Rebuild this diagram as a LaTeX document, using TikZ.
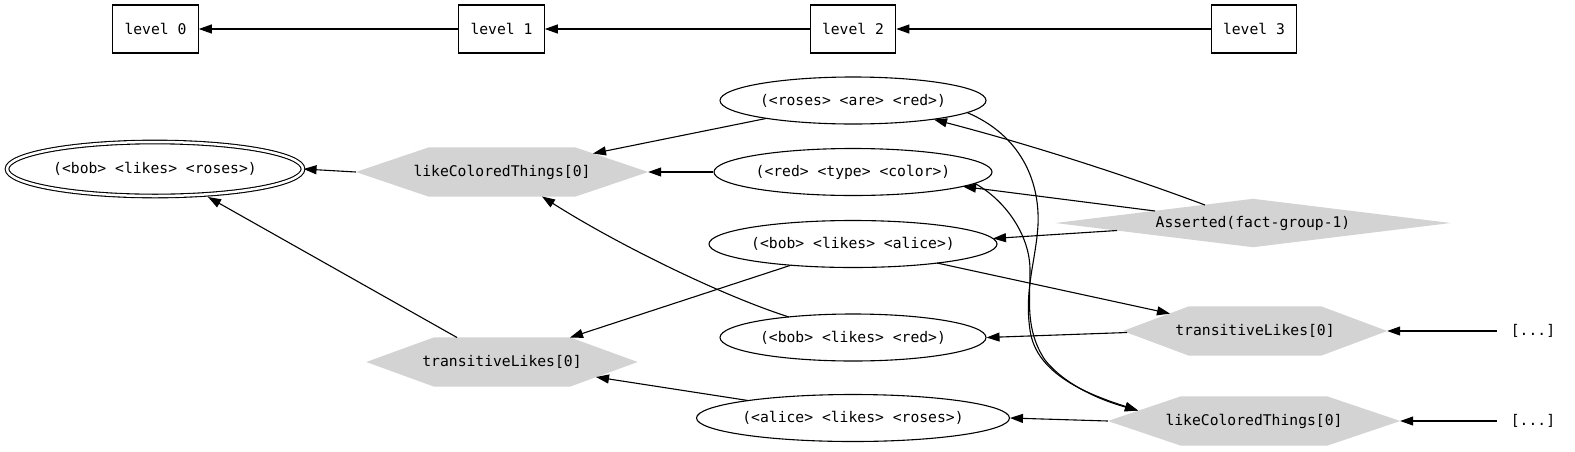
\documentclass[tikz,border=0pt]{standalone}
\usepackage{fontspec}
\newfontfamily\gvfont{DejaVu Sans Mono}
\usetikzlibrary{shapes.geometric,arrows.meta,calc}
\pgfdeclarelayer{background}
\pgfsetlayers{background,main}
\definecolor{gvgray}{HTML}{D3D3D3}
\newcommand\hexfill[1]{\fill[gvgray] (#1.west) -- ($(#1.north west)!.25!(#1.north east)$) -- ($(#1.north west)!.75!(#1.north east)$) -- (#1.east) -- ($(#1.south west)!.75!(#1.south east)$) -- ($(#1.south west)!.25!(#1.south east)$) -- cycle;}
\newcommand\diafill[1]{\fill[gvgray] (#1.west) -- (#1.north) -- (#1.east) -- (#1.south) -- cycle;}
\begin{document}
\begin{tikzpicture}[x=1pt,y=-1pt,
  font=\gvfont\fontsize{14.7}{17}\selectfont,
  every node/.style={inner sep=0pt},
  lvl/.style={draw, rectangle, minimum width=85.5pt, minimum height=48pt, line width=1.1pt},
  fact/.style={draw, ellipse, minimum height=47pt, line width=1.1pt},
  rulebox/.style={rectangle, minimum height=49pt},
  link/.style={line width=1.1pt, -{Triangle[length=13pt,width=9pt]}},
 ]
\useasboundingbox (0,0) rectangle (1575,451);
% levels
\node[lvl] (l0) at (155.5,29) {level 0};
\node[lvl] (l1) at (501.5,29) {level 1};
\node[lvl] (l2) at (853,29) {level 2};
\node[lvl] (l3) at (1254,29) {level 3};
% facts and rules
\node[fact, double, double distance=2.5pt, minimum width=296pt, minimum height=54pt] (bobroses) at (155,169) {(<bob> <likes> <roses>)};
\node[rulebox, minimum width=292pt] (LCT1) at (502,172) {likeColoredThings[0]};
\node[rulebox, minimum width=271pt] (TL1) at (502,362) {transitiveLikes[0]};
\node[fact, minimum width=266pt] (rosesred) at (853,100.5) {(<roses> <are> <red>)};
\node[fact, minimum width=278pt] (redtype) at (853,172) {(<red> <type> <color>)};
\node[fact, minimum width=288pt] (bobalice) at (853,244) {(<bob> <likes> <alice>)};
\node[fact, minimum width=266pt] (bobred) at (853,337.5) {(<bob> <likes> <red>)};
\node[fact, minimum width=310pt] (alice) at (853,418) {(<alice> <likes> <roses>)};
\node[rulebox, minimum width=395pt, minimum height=48pt] (asserted) at (1253,223) {Asserted(fact-group-1)};
\node[rulebox, minimum width=264pt] (TL2) at (1255,331) {transitiveLikes[0]};
\node[rulebox, minimum width=292pt] (LCT2) at (1254,421) {likeColoredThings[0]};
\node[inner xsep=14pt] (dots1) at (1533,331) {[...]};
\node[inner xsep=14pt] (dots2) at (1533,421) {[...]};
\begin{pgfonlayer}{background}
\hexfill{LCT1}
\hexfill{TL1}
\hexfill{TL2}
\hexfill{LCT2}
\diafill{asserted}
\end{pgfonlayer}
% edges
\draw[link] (l1) -- (l0);
\draw[link] (l2) -- (l1);
\draw[link] (l3) -- (l2);
\draw[link] (LCT1.west) -- (bobroses.east);
\draw[link] ($(TL1)+(-45,-24.5)$) -- ($(bobroses)+(53,28)$);
\draw[link] ($(rosesred)+(-87,18)$) -- ($(LCT1)+(91,-18.5)$);
\draw[link] (redtype.west) -- (LCT1.east);
\draw[link] ($(bobred)+(-64,-20.5)$) .. controls (720,295) and (615,243) .. ($(LCT1)+(40,24.5)$);
\draw[link] ($(bobalice)+(-63,21.5)$) -- ($(TL1)+(68,-24.5)$);
\draw[link] ($(alice)+(-105,-17.5)$) -- ($(TL1)+(94,15)$);
\draw[link] ($(asserted)+(-48,-18)$) .. controls (1115,171.5) and (1024,143) .. ($(rosesred)+(81,19)$);
\draw[link] ($(asserted)+(-98,-12)$) -- ($(redtype)+(110,14.5)$);
\draw[link] ($(asserted)+(-136,7.5)$) -- ($(bobalice)+(140,-5.5)$);
\draw[link] ($(bobalice)+(84,19)$) -- ($(TL2)+(-85,-17.4)$);
\draw[link] ($(TL2)+(-128,1.5)$) -- (bobred.east);
\draw[link] (LCT2.west) -- (alice.east);
\draw[link] ($(rosesred)+(114,12)$) .. controls (1020,135) and (1040,180) .. (1038,225) .. controls (1036,260) and (1024,290) .. (1030,330) .. controls (1036,375) and (1090,395) .. ($(LCT2)+(-116,-10.5)$);
\draw[link] ($(redtype)+(122,11.5)$) .. controls (1005,200) and (1030,235) .. (1030,270) .. controls (1030,300) and (1025,330) .. (1045,360) .. controls (1065,385) and (1100,400) .. ($(LCT2)+(-116,-10.5)$);
\draw[link] (dots1) -- (TL2.east);
\draw[link] (dots2) -- (LCT2.east);
\end{tikzpicture}
\end{document}
